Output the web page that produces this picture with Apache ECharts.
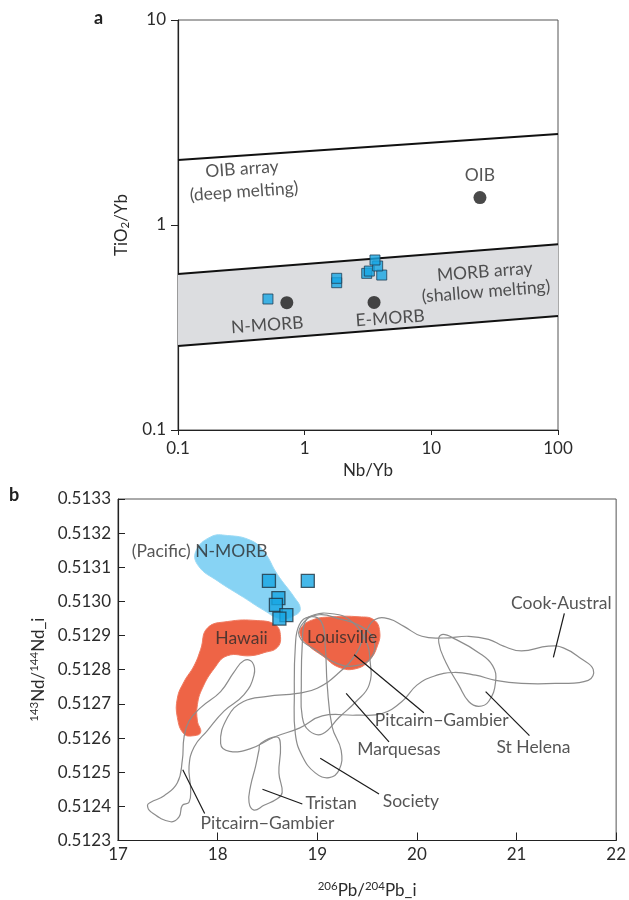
<!DOCTYPE html>
<html><head><meta charset="utf-8">
<script src="https://cdn.jsdelivr.net/npm/echarts@6/dist/echarts.min.js"></script>
<style>html,body{margin:0;padding:0;background:#fff}#c{width:629px;height:900px}</style>
</head><body><div id="c"></div>
<script>
// ---------- Panel a : TiO2/Yb vs Nb/Yb (log-log) ----------
const aXTicks = [0.1, 1, 10, 100];
const aYTicks = [0.1, 1, 10];
const oibArrayLine = [[0.1, 2.075], [100, 2.78]];
const morbUpperLine = [[0.1, 0.577], [100, 0.805]];
const morbLowerLine = [[0.1, 0.257], [100, 0.36]];
const refNames = ['N-MORB', 'E-MORB', 'OIB'];
const refPoints = [[0.723, 0.418], [3.53, 0.419], [24.2, 1.36]];
const samplesA = [[0.513, 0.4355], [1.79, 0.523], [1.79, 0.5495], [3.09, 0.581],
                  [3.24, 0.596], [4.06, 0.570], [3.77, 0.631], [3.59, 0.675]];
const labelTextA = ['OIB array', '(deep melting)', 'OIB', 'MORB array', '(shallow melting)', 'N-MORB', 'E-MORB'];
const labelPosA = [[0.32, 1.876], [0.332, 1.454], [24.2, 1.74], [26.4, 0.592], [27.0, 0.473], [0.506, 0.325], [4.72, 0.3506]];

// ---------- Panel b : 143Nd/144Nd vs 206Pb/204Pb ----------
const bXTicks = [17, 18, 19, 20, 21, 22];
const bYTicks = [0.5123, 0.5124, 0.5125, 0.5126, 0.5127, 0.5128, 0.5129, 0.5130, 0.5131, 0.5132, 0.5133];
const nmorbField = [[17.78,0.513146],[17.93,0.513189],[18.10,0.513193],[18.33,0.513179],[18.465,0.513146],[18.60,0.513079],
  [18.77,0.513012],[18.83,0.512979],[18.78,0.51296],[18.63,0.51295],[18.465,0.512974],[18.26,0.513012],[18.00,0.51306],[17.81,0.513103]];
const hawaiiField = [[17.897,0.512922],[18.097,0.512941],[18.397,0.512944],[18.581,0.512931],[18.631,0.512898],[18.598,0.512865],
  [18.465,0.51285],[18.331,0.512841],[18.097,0.512841],[17.964,0.512803],[17.847,0.512746],[17.797,0.512698],[17.797,0.51265],
  [17.83,0.512617],[17.764,0.512607],[17.663,0.512612],[17.596,0.51266],[17.596,0.512717],[17.663,0.512765],[17.764,0.512812],[17.83,0.51286]];
const louisvilleField = [[18.836,0.512922],[18.952,0.512946],[19.152,0.512955],[19.42,0.512955],[19.57,0.512946],[19.627,0.512912],
  [19.603,0.512869],[19.52,0.512827],[19.387,0.512803],[19.219,0.512807],[19.052,0.512841],[18.919,0.512869],[18.836,0.512898]];
const cookAustral = [[18.03,0.512584],[18.10,0.512661],[18.26,0.512707],[18.50,0.512722],[18.80,0.512731],[19.00,0.512746],[19.22,0.512792],
  [19.39,0.512847],[19.49,0.512912],[19.58,0.512947],[19.72,0.512949],[19.87,0.512927],[20.05,0.512898],[20.27,0.512893],[20.52,0.512898],
  [20.72,0.512889],[20.87,0.512869],[21.05,0.512855],[21.32,0.512869],[21.47,0.512864],[21.65,0.512832],[21.77,0.512801],[21.72,0.512769],
  [21.39,0.51276],[21.05,0.51276],[20.79,0.512769],[20.59,0.512784],[20.37,0.512792],[20.17,0.512781],[20.00,0.512755],[19.85,0.512707],
  [19.65,0.512672],[19.39,0.512667],[19.05,0.512665],[18.82,0.512629],[18.57,0.512603],[18.33,0.512569],[18.12,0.512561]];
const stHelena = [[20.25,0.512903],[20.39,0.512889],[20.62,0.51285],[20.76,0.512812],[20.79,0.512765],[20.72,0.512707],[20.62,0.512693],
  [20.52,0.512707],[20.42,0.512755],[20.29,0.512822],[20.22,0.512879]];
const marquesas = [[18.85,0.512878],[18.88,0.512941],[18.97,0.512961],[19.15,0.512964],[19.32,0.512947],[19.48,0.512889],[19.53,0.512827],
  [19.52,0.512755],[19.39,0.512707],[19.22,0.512661],[19.05,0.512612],[18.92,0.512621],[18.85,0.512661],[18.84,0.512755]];
const society = [[18.78,0.512869],[18.82,0.512932],[18.92,0.512955],[19.04,0.512941],[19.08,0.512869],[19.10,0.512755],[19.15,0.512632],
  [19.24,0.512564],[19.22,0.512507],[19.12,0.512484],[18.98,0.512498],[18.85,0.512547],[18.78,0.512612],[18.77,0.512727]];
const pitcairnRight = [[18.82,0.512898],[18.87,0.512941],[19.02,0.512961],[19.22,0.512949],[19.44,0.512927],[19.57,0.512884],
  [19.54,0.512835],[19.39,0.512812],[19.20,0.512818],[19.00,0.512855]];
const pitcairnLeft = [[17.296,0.512403],[17.329,0.512384],[17.529,0.512355],[17.613,0.512369],[17.646,0.512403],[17.713,0.512412],
  [17.729,0.51245],[17.713,0.512517],[17.764,0.512574],[17.897,0.512622],[18.064,0.512679],[18.265,0.512727],[18.365,0.512784],
  [18.348,0.512822],[18.265,0.512827],[18.164,0.512793],[18.03,0.512736],[17.83,0.512689],[17.713,0.51265],[17.663,0.512603],
  [17.646,0.512536],[17.596,0.512469],[17.463,0.512431],[17.329,0.512412]];
const tristan = [[18.431,0.512584],[18.598,0.512603],[18.631,0.512574],[18.615,0.512498],[18.648,0.512441],[18.598,0.512422],
  [18.465,0.512403],[18.365,0.512389],[18.315,0.512412],[18.331,0.51246],[18.381,0.512517],[18.415,0.512565]];
const samplesB = [[18.515,0.51306],[18.905,0.51306],[18.61,0.51301],[18.585,0.51299],[18.69,0.51296],[18.62,0.51295]];
const leaderLines = [
  [[21.37,0.512836],[21.48,0.512965]],
  [[20.69,0.512736],[21.13,0.512607]],
  [[19.37,0.512844],[20.07,0.512674]],
  [[19.29,0.512731],[19.72,0.512589]],
  [[19.03,0.512541],[19.62,0.512436]],
  [[18.45,0.51245],[18.85,0.512407]],
  [[17.65,0.512507],[17.87,0.512379]]
];
const labelTextB = ['Cook-Austral','St Helena','Pitcairn\u2212Gambier','Marquesas','Society','Tristan','Pitcairn\u2212Gambier','Hawaii','Louisville','(Pacific) N-MORB'];
const labelPosB = [[21.45,0.512995],[21.17,0.512572],[20.25,0.512653],[19.82,0.512567],[19.94,0.512415],[19.14,0.512409],[18.50,0.51235],
  [18.24,0.512892],[19.25,0.512895],[17.82,0.513146]];

// ---------- build option ----------
const FONT = 'Lato';
const TXT = '#2b2b2b';
const chart = echarts.init(document.getElementById('c'), null, {renderer: 'canvas'});

function polySeries(points, grid, style, z, smooth) {
  return {
    type: 'custom', xAxisIndex: grid, yAxisIndex: grid, z: z, silent: true,
    data: [points[0]],
    renderItem: function (params, api) {
      return {
        type: 'polygon',
        shape: {points: points.map(function (p) { return api.coord(p); }), smooth: smooth},
        style: style
      };
    }
  };
}
function lineSeries(points, grid, color, width, z) {
  return {type: 'line', xAxisIndex: grid, yAxisIndex: grid, data: points, symbol: 'none', silent: true, z: z,
          lineStyle: {color: color, width: width}, animation: false};
}

const rotA = {'OIB array': 4, '(deep melting)': 4, 'MORB array': 4.5, '(shallow melting)': 4.5, 'N-MORB': 4, 'E-MORB': 4, 'OIB': 0};
const outlineStyle = {fill: 'none', stroke: '#8c8c8c', lineWidth: 1.2};
const redFill = {fill: '#ee6446', stroke: '#f07a60', lineWidth: 1};
const LBL = 17.5;

const series = [];
// panel a
series.push(polySeries([morbUpperLine[0], morbUpperLine[1], morbLowerLine[1], morbLowerLine[0]], 0, {fill: '#dcdde0'}, 1, 0));
[oibArrayLine, morbUpperLine, morbLowerLine].forEach(function (l) { series.push(lineSeries(l, 0, '#111', 2, 3)); });
series.push({type: 'scatter', xAxisIndex: 0, yAxisIndex: 0, data: refPoints, symbol: 'circle', symbolSize: 13, z: 5,
             itemStyle: {color: '#1b1b1b'}, silent: true, animation: false});
series.push({type: 'scatter', xAxisIndex: 0, yAxisIndex: 0, data: samplesA, symbol: 'rect', symbolSize: 10, z: 6,
             itemStyle: {color: '#17a6e4', borderColor: '#1f3f55', borderWidth: 1}, silent: true, animation: false});
series.push({type: 'scatter', xAxisIndex: 0, yAxisIndex: 0, symbolSize: 0, z: 7, silent: true, animation: false,
  data: labelTextA.map(function (t, i) {
    return {value: labelPosA[i], name: t, label: {rotate: rotA[t] || 0}};
  }),
  label: {show: true, position: 'inside', formatter: '{b}', fontFamily: FONT, fontSize: LBL, color: TXT}
});
// panel b
series.push(polySeries(nmorbField, 1, {fill: '#87d3f4', stroke: '#9bdaf5', lineWidth: 1}, 1, 0.45));
series.push(polySeries(hawaiiField, 1, redFill, 1, 0.45));
series.push(polySeries(louisvilleField, 1, redFill, 1, 0.45));
[cookAustral, stHelena, marquesas, society, pitcairnRight, pitcairnLeft, tristan].forEach(function (s) {
  series.push(polySeries(s, 1, outlineStyle, 2, 0.45));
});
leaderLines.forEach(function (l) { series.push(lineSeries(l, 1, '#1a1a1a', 1.2, 3)); });
series.push({type: 'scatter', xAxisIndex: 1, yAxisIndex: 1, symbolSize: 0, z: 7, silent: true, animation: false,
  data: labelTextB.map(function (t, i) { return {value: labelPosB[i], name: t}; }),
  label: {show: true, position: 'inside', formatter: '{b}', fontFamily: FONT, fontSize: LBL, color: TXT}
});
series.push({type: 'scatter', xAxisIndex: 1, yAxisIndex: 1, data: samplesB, symbol: 'rect', symbolSize: 13, z: 8,
             itemStyle: {color: '#17a6e4', borderColor: '#1f3442', borderWidth: 1.3}, silent: true, animation: false});

const axisLabelBase = {fontFamily: FONT, fontSize: 17, color: TXT};
const nameStyle = function (subPad) {
  return {fontFamily: FONT, fontSize: 17, color: TXT,
    rich: {n: {fontFamily: FONT, fontSize: 17, color: TXT}, s: {fontFamily: FONT, fontSize: 11.5, color: TXT, padding: subPad}}};
};
const option = {
  animation: false,
  backgroundColor: '#fff',
  title: [
    {text: 'a', left: 94, top: 9, padding: 0, textStyle: {fontFamily: FONT, fontSize: 18, fontWeight: 'bold', color: '#222'}},
    {text: 'b', left: 9, top: 486, padding: 0, textStyle: {fontFamily: FONT, fontSize: 18, fontWeight: 'bold', color: '#222'}}
  ],
  grid: [
    {left: 178, top: 20, width: 380, height: 410, show: true, borderColor: '#555', borderWidth: 1},
    {left: 118, top: 499, width: 500, height: 350, show: true, borderColor: '#555', borderWidth: 1}
  ],
  xAxis: [
    {gridIndex: 0, type: 'log', logBase: 10, min: aXTicks[0], max: aXTicks[aXTicks.length - 1],
     axisLine: {lineStyle: {color: '#222', width: 1.2}}, axisTick: {length: 5, lineStyle: {color: '#222'}},
     splitLine: {show: false},
     axisLabel: Object.assign({margin: 10, formatter: function (v) { return String(+(+v).toPrecision(3)); }}, axisLabelBase),
     name: 'Nb/Yb', nameLocation: 'middle', nameGap: 32, nameTextStyle: {fontFamily: FONT, fontSize: 17, color: TXT}},
    {gridIndex: 1, type: 'value', min: bXTicks[0], max: bXTicks[bXTicks.length - 1], interval: 1,
     axisLine: {lineStyle: {color: '#222', width: 1.2}}, axisTick: {inside: true, length: 8, lineStyle: {color: '#222'}},
     splitLine: {show: false},
     axisLabel: Object.assign({margin: 6}, axisLabelBase),
     name: '{s|206}{n|Pb/}{s|204}{n|Pb_i}', nameLocation: 'middle', nameGap: 40, nameTextStyle: nameStyle([0, 0, 8, 0])}
  ],
  yAxis: [
    {gridIndex: 0, type: 'log', logBase: 10, min: aYTicks[0], max: aYTicks[aYTicks.length - 1],
     axisLine: {lineStyle: {color: '#222', width: 1.2}}, axisTick: {length: 7, lineStyle: {color: '#222'}},
     splitLine: {show: false},
     axisLabel: Object.assign({margin: 12, formatter: function (v) { return String(+(+v).toPrecision(3)); }}, axisLabelBase),
     name: '{n|TiO}{s|2}{n|/Yb}', nameLocation: 'middle', nameGap: 36, nameTextStyle: nameStyle([8, 0, 0, 0])},
    {gridIndex: 1, type: 'value', min: bYTicks[0], max: bYTicks[bYTicks.length - 1], interval: 0.0001,
     axisLine: {lineStyle: {color: '#222', width: 1.2}}, axisTick: {inside: true, length: 7, lineStyle: {color: '#222'}},
     splitLine: {show: false},
     axisLabel: Object.assign({margin: 7, formatter: function (v) { return (+v).toFixed(4); }}, axisLabelBase),
     name: '{s|143}{n|Nd/}{s|144}{n|Nd_i}', nameLocation: 'middle', nameGap: 68, nameTextStyle: nameStyle([0, 0, 8, 0])}
  ],
  series: series
};
chart.setOption(option);
</script>
</body></html>
